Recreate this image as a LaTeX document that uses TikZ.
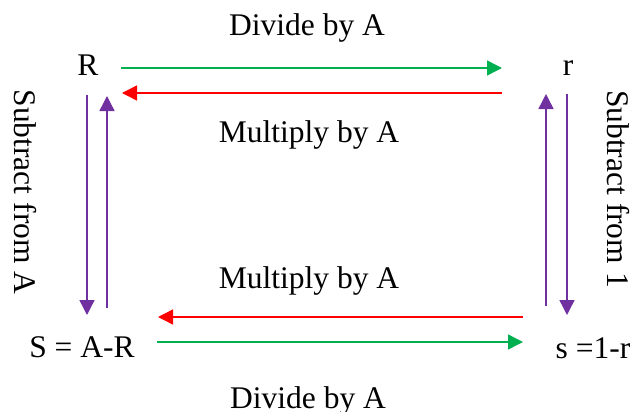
\documentclass[tikz,border=0pt]{standalone}
\usepackage{fontspec}
\setmainfont{Liberation Serif}
\usetikzlibrary{arrows.meta}
\definecolor{cgreen}{HTML}{00B050}
\definecolor{cred}{HTML}{FF0000}
\definecolor{cpurple}{HTML}{7030A0}
\tikzset{
  lbl/.style={inner sep=0pt, anchor=base, font=\fontsize{31.5}{36}\selectfont},
  conn/.style={line width=1.4pt, -{Triangle[length=15pt,width=15pt]}},
  garrow/.style={conn, draw=cgreen, fill=cgreen},
  rarrow/.style={conn, draw=cred, fill=cred},
  parrow/.style={conn, draw=cpurple, fill=cpurple}
}
\begin{document}
\begin{tikzpicture}[x=1pt,y=-1pt]
\useasboundingbox (0,0) rectangle (632,412);
% corner texts
\node[lbl] (R) at (88,76) {R};
\node[lbl] (r) at (568,75) {r};
\node[lbl] (S) at (82,357) {S = A-R};
\node[lbl] (s) at (593,358) {s =1-r};
% labels
\node[lbl] (divtop) at (307,36) {Divide by A};
\node[lbl] (multop) at (309,142) {Multiply by A};
\node[lbl] (mulbot) at (309,288) {Multiply by A};
\node[lbl] (divbot) at (308,408) {Divide by A};
\node[lbl, rotate=-90] (subA) at (14,192) {Subtract from A};
\node[lbl, rotate=-90] (sub1) at (607,189) {Subtract from 1};
% connector end points
\coordinate (gt1) at (121,68);  \coordinate (gt2) at (502,68);
\coordinate (rt1) at (502,93);  \coordinate (rt2) at (122,93);
\coordinate (ld1) at (87,95);   \coordinate (ld2) at (87,315);
\coordinate (lu1) at (107,308); \coordinate (lu2) at (107,96);
\coordinate (ru1) at (546,306); \coordinate (ru2) at (546,94);
\coordinate (rd1) at (567,94);  \coordinate (rd2) at (567,315);
\coordinate (rb1) at (523,317); \coordinate (rb2) at (158,317);
\coordinate (gb1) at (157,342); \coordinate (gb2) at (523,342);
% connectors
\draw[garrow] (gt1) -- (gt2);
\draw[rarrow] (rt1) -- (rt2);
\draw[parrow] (ld1) -- (ld2);
\draw[parrow] (lu1) -- (lu2);
\draw[parrow] (ru1) -- (ru2);
\draw[parrow] (rd1) -- (rd2);
\draw[rarrow] (rb1) -- (rb2);
\draw[garrow] (gb1) -- (gb2);
\end{tikzpicture}
\end{document}
